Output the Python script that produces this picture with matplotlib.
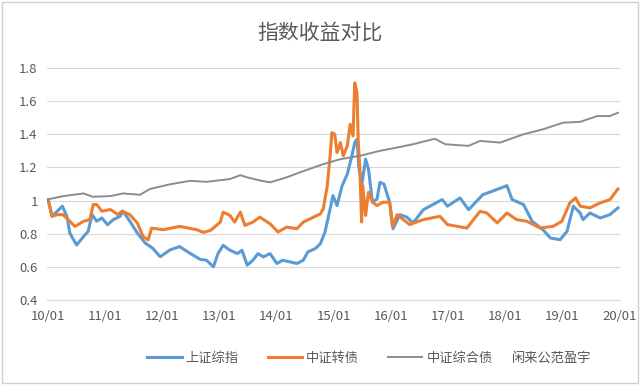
import matplotlib.pyplot as plt
from matplotlib.patches import Rectangle

plt.rcParams['font.family'] = ['Noto Sans CJK SC', 'DejaVu Sans']

# decimal years / index values
sz_t = [2010.00, 2010.01, 2010.08, 2010.17, 2010.26, 2010.34, 2010.39, 2010.44, 2010.51,
        2010.63, 2010.71, 2010.78, 2010.86, 2010.95, 2011.05, 2011.15, 2011.27, 2011.32,
        2011.44, 2011.57, 2011.71, 2011.84, 2011.97, 2012.14, 2012.31, 2012.49, 2012.67,
        2012.78, 2012.90, 2012.98, 2013.07, 2013.19, 2013.32, 2013.40, 2013.49, 2013.59,
        2013.68, 2013.77, 2013.89, 2014.01, 2014.11, 2014.24, 2014.36, 2014.47, 2014.55,
        2014.68, 2014.77, 2014.85, 2014.94, 2014.99, 2015.06, 2015.15, 2015.24, 2015.32,
        2015.37, 2015.41, 2015.44, 2015.49, 2015.56, 2015.61, 2015.68, 2015.76, 2015.81,
        2015.88, 2015.98, 2016.04, 2016.16, 2016.28, 2016.39, 2016.57, 2016.90, 2016.99,
        2017.21, 2017.36, 2017.61, 2017.78, 2018.03, 2018.12, 2018.32, 2018.47, 2018.66,
        2018.79, 2018.96, 2019.08, 2019.19, 2019.31, 2019.36, 2019.48, 2019.66, 2019.83,
        2019.97]
sz_v = [1.00, 1.007, 0.905, 0.936, 0.966, 0.905, 0.804, 0.773, 0.732,
        0.783, 0.814, 0.915, 0.875, 0.895, 0.854, 0.885, 0.905, 0.936,
        0.875, 0.804, 0.743, 0.712, 0.661, 0.702, 0.722, 0.682, 0.645,
        0.64, 0.60, 0.68, 0.73, 0.70, 0.68, 0.70, 0.61, 0.64,
        0.68, 0.66, 0.68, 0.62, 0.64, 0.63, 0.62, 0.64, 0.69,
        0.71, 0.74, 0.81, 0.95, 1.03, 0.97, 1.09, 1.16, 1.27,
        1.35, 1.37, 1.21, 1.09, 1.25, 1.19, 0.99, 1.01, 1.11,
        1.10, 0.99, 0.83, 0.915, 0.90, 0.865, 0.945, 1.006, 0.966,
        1.016, 0.945, 1.036, 1.057, 1.09, 1.006, 0.976, 0.875, 0.824,
        0.774, 0.764, 0.814, 0.966, 0.925, 0.885, 0.925, 0.895, 0.915,
        0.956]

cb_t = [2010.00, 2010.01, 2010.08, 2010.17, 2010.27, 2010.39, 2010.48, 2010.63, 2010.74,
        2010.80, 2010.86, 2010.95, 2011.10, 2011.23, 2011.30, 2011.44, 2011.57, 2011.67,
        2011.76, 2011.82, 2012.02, 2012.31, 2012.61, 2012.72, 2012.85, 2013.02, 2013.07,
        2013.19, 2013.27, 2013.37, 2013.45, 2013.59, 2013.71, 2013.89, 2014.03, 2014.18,
        2014.36, 2014.47, 2014.65, 2014.77, 2014.82, 2014.89, 2014.94, 2014.97, 2015.02,
        2015.06, 2015.12, 2015.17, 2015.24, 2015.29, 2015.34, 2015.37, 2015.41, 2015.43,
        2015.46, 2015.49, 2015.51, 2015.56, 2015.61, 2015.68, 2015.76, 2015.86, 2015.98,
        2016.03, 2016.11, 2016.33, 2016.57, 2016.86, 2016.99, 2017.33, 2017.56, 2017.68,
        2017.86, 2018.03, 2018.20, 2018.38, 2018.61, 2018.84, 2018.99, 2019.13, 2019.23,
        2019.31, 2019.48, 2019.66, 2019.83, 2019.97]
cb_v = [1.00, 1.007, 0.905, 0.915, 0.915, 0.875, 0.844, 0.875, 0.885,
        0.976, 0.976, 0.936, 0.946, 0.915, 0.936, 0.915, 0.865, 0.783,
        0.763, 0.834, 0.824, 0.844, 0.824, 0.808, 0.82, 0.87, 0.93,
        0.91, 0.87, 0.93, 0.85, 0.87, 0.90, 0.86, 0.81, 0.84,
        0.83, 0.87, 0.90, 0.92, 0.95, 1.09, 1.27, 1.41, 1.40,
        1.29, 1.35, 1.27, 1.33, 1.46, 1.39, 1.71, 1.65, 1.37,
        1.19, 0.87, 1.09, 0.91, 1.05, 0.99, 0.97, 0.99, 0.99,
        0.845, 0.915, 0.855, 0.885, 0.905, 0.855, 0.834, 0.935, 0.925,
        0.865, 0.925, 0.885, 0.875, 0.834, 0.845, 0.875, 0.986, 1.016,
        0.966, 0.956, 0.986, 1.006, 1.07]

bd_t = [2010.00, 2010.00, 2010.28, 2010.63, 2010.79, 2011.10, 2011.32, 2011.62, 2011.79,
        2012.14, 2012.49, 2012.78, 2013.19, 2013.37, 2013.49, 2013.73, 2013.89, 2014.18,
        2014.41, 2014.82, 2015.12, 2015.46, 2015.81, 2016.11, 2016.39, 2016.77, 2016.95,
        2017.36, 2017.56, 2017.91, 2018.32, 2018.66, 2019.01, 2019.31, 2019.61, 2019.83,
        2019.97]
bd_v = [1.00, 1.007, 1.027, 1.043, 1.023, 1.027, 1.043, 1.035, 1.07,
        1.098, 1.119, 1.113, 1.13, 1.153, 1.14, 1.12, 1.11, 1.14,
        1.17, 1.22, 1.25, 1.27, 1.30, 1.32, 1.34, 1.373, 1.34,
        1.33, 1.36, 1.35, 1.40, 1.43, 1.47, 1.475, 1.51, 1.51,
        1.53]

years = list(range(2010, 2021))
xlabels = ['%02d/01' % (y % 100) for y in years]
yticks = [0.4, 0.6, 0.8, 1.0, 1.2, 1.4, 1.6, 1.8]
ylabels = ['0.4', '0.6', '0.8', '1', '1.2', '1.4', '1.6', '1.8']

fig = plt.figure(figsize=(6.4, 3.85), dpi=100)
fig.patches.append(Rectangle((0.003, 0.005), 0.994, 0.99, transform=fig.transFigure,
                             fill=False, edgecolor='#D0D0D0', linewidth=1))
ax = fig.add_axes([0.0742, 0.2208, 0.894, 0.6026])

ax.plot(sz_t, sz_v, color='#5B9BD5', lw=2.2, label='上证综指')
ax.plot(cb_t, cb_v, color='#ED7D31', lw=2.2, label='中证转债')
ax.plot(bd_t, bd_v, color='#8C8C8C', lw=1.4, label='中证综合债')

ax.set_xlim(2010, 2020)
ax.set_ylim(0.4, 1.8)
ax.set_xticks(years)
ax.set_xticklabels(xlabels)
ax.set_yticks(yticks)
ax.set_yticklabels(ylabels)
ax.tick_params(length=0, labelsize=9.5, labelcolor='#595959', pad=7)
ax.grid(axis='y', color='#D9D9D9', lw=0.8)
ax.set_axisbelow(True)
for s in ['top', 'right', 'left']:
    ax.spines[s].set_visible(False)
ax.spines['bottom'].set_color('#D9D9D9')

fig.text(0.5, 0.915, '指数收益对比', ha='center', va='center', fontsize=15, color='#595959')

fig.legend(loc='center', bbox_to_anchor=(0.5, 0.07), ncol=3, frameon=False,
           fontsize=9.5, handlelength=2.6, columnspacing=2.2, handletextpad=0.3,
           labelcolor='#595959')
fig.text(0.80, 0.07, '闲来公范盈宇', ha='left', va='center', fontsize=9.5, color='#555555',
         bbox=dict(facecolor='white', edgecolor='none', pad=1))

fig.savefig('out.png', dpi=100)
